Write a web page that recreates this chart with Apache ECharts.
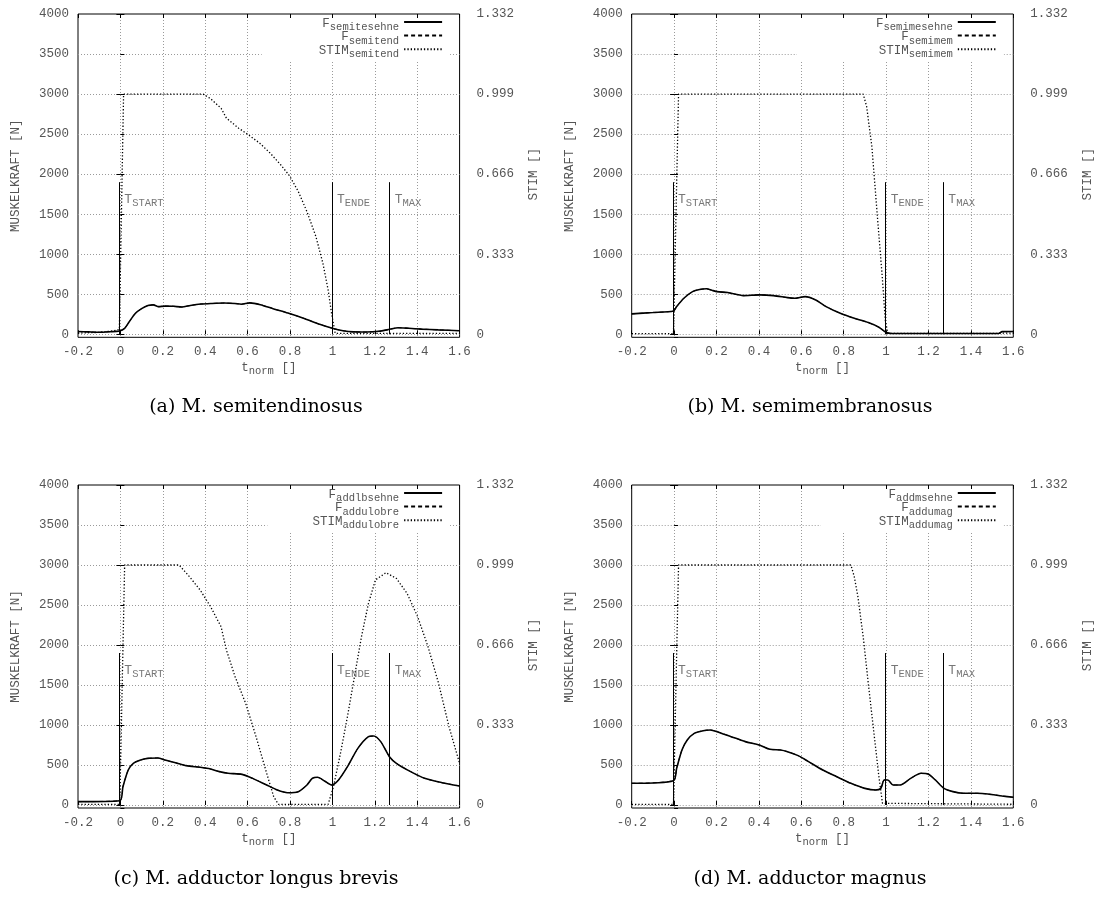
<!DOCTYPE html>
<html>
<head>
<meta charset="utf-8">
<title>Muskelkraft</title>
<script src="https://cdn.jsdelivr.net/npm/echarts@6/dist/echarts.min.js"></script>
<style>
  html, body { margin: 0; padding: 0; background: #fff; }
  #main { width: 1101px; height: 910px; }
</style>
</head>
<body>
<div id="main"></div>
<script>
// axes
var xMin = -0.2, xMax = 1.6, xStep = 0.2;
var forceMax = 4000;
var stimMax = 1.332, stimStep = 0.333;
var markerTop = 1900, markerLabelAt = 1700;
var markerNames = ['START', 'ENDE', 'MAX'];

// (a) M. semitendinosus  [t_norm, N] / [t_norm, STIM]
var forceA = [[-0.2,35],[-0.15,30],[-0.1,25],[-0.05,32],[-0.005,42],[0.02,75],[0.04,150],[0.07,260],[0.1,320],[0.13,360],[0.155,368],[0.18,345],[0.21,352],[0.25,350],[0.29,340],[0.33,360],[0.38,378],[0.43,385],[0.49,390],[0.54,385],[0.57,375],[0.61,392],[0.66,370],[0.72,320],[0.79,265],[0.87,195],[0.94,125],[1.0,75],[1.05,45],[1.1,30],[1.16,28],[1.22,38],[1.27,62],[1.31,82],[1.36,75],[1.42,65],[1.5,55],[1.6,45]];
var stimA = [[-0.2,0.005],[-0.1,0.008],[-0.03,0.015],[-0.005,0.02],[0.015,0.999],[0.39,0.999],[0.425,0.98],[0.475,0.94],[0.5,0.899],[0.558,0.857],[0.6,0.832],[0.657,0.795],[0.707,0.753],[0.756,0.705],[0.798,0.659],[0.839,0.594],[0.88,0.51],[0.922,0.407],[0.955,0.296],[0.98,0.184],[0.996,0.087],[1.013,0.004],[1.6,0.004]];
var markA = [-0.005, 0.998, 1.27];

// (b) M. semimembranosus
var forceB = [[-0.2,255],[-0.1,272],[-0.003,292],[0.012,346],[0.046,450],[0.087,533],[0.12,560],[0.153,568],[0.178,550],[0.203,533],[0.253,521],[0.327,483],[0.402,492],[0.469,483],[0.535,458],[0.568,450],[0.618,471],[0.668,429],[0.717,346],[0.784,262],[0.85,200],[0.916,146],[0.966,88],[0.999,25],[1.024,10],[1.2,10],[1.4,10],[1.53,10],[1.547,33],[1.6,35]];
var stimB = [[-0.2,0.003],[-0.003,0.003],[0.021,0.999],[0.892,0.999],[0.908,0.948],[0.933,0.78],[0.958,0.5],[0.983,0.226],[0.996,0.06],[1.008,0.004],[1.5,0.004],[1.6,0.005]];
var markB = [-0.005, 0.998, 1.27];

// (c) M. adductor longus brevis
var forceC = [[-0.2,42],[-0.003,54],[0.012,229],[0.037,438],[0.061,521],[0.095,562],[0.128,583],[0.177,588],[0.21,562],[0.26,529],[0.31,492],[0.376,471],[0.425,450],[0.467,417],[0.508,396],[0.574,383],[0.624,333],[0.69,250],[0.74,188],[0.789,154],[0.839,167],[0.88,250],[0.905,333],[0.93,346],[0.963,300],[0.996,250],[1.029,313],[1.071,479],[1.12,708],[1.17,854],[1.195,863],[1.228,792],[1.269,604],[1.302,521],[1.369,417],[1.435,333],[1.517,279],[1.6,238]];
var stimC = [[-0.2,0.003],[-0.003,0.003],[0.02,0.999],[0.277,0.999],[0.326,0.95],[0.376,0.895],[0.425,0.826],[0.475,0.742],[0.5,0.645],[0.541,0.534],[0.591,0.423],[0.64,0.284],[0.69,0.132],[0.723,0.035],[0.745,0.003],[0.98,0.003],[1.005,0.076],[1.038,0.215],[1.071,0.368],[1.104,0.534],[1.137,0.7],[1.17,0.839],[1.203,0.937],[1.253,0.967],[1.302,0.943],[1.352,0.881],[1.402,0.784],[1.451,0.659],[1.501,0.506],[1.55,0.326],[1.6,0.173]];
var markC = [-0.005, 0.998, 1.27];

// (d) M. adductor magnus
var forceD = [[-0.2,271],[-0.003,304],[0.012,458],[0.037,688],[0.062,813],[0.095,896],[0.137,929],[0.17,938],[0.203,917],[0.269,854],[0.336,792],[0.402,750],[0.452,696],[0.502,688],[0.535,667],[0.585,617],[0.634,542],[0.701,438],[0.767,354],[0.834,271],[0.9,208],[0.95,188],[0.975,208],[0.991,313],[1.008,313],[1.033,250],[1.066,250],[1.116,333],[1.165,396],[1.198,388],[1.232,313],[1.273,208],[1.315,167],[1.364,146],[1.43,146],[1.48,138],[1.547,113],[1.6,96]];
var stimD = [[-0.2,0.003],[-0.003,0.003],[0.021,0.999],[0.834,0.999],[0.85,0.95],[0.867,0.867],[0.892,0.7],[0.916,0.506],[0.941,0.312],[0.966,0.118],[0.983,0.007],[1.6,0.003]];
var markD = [-0.005, 0.998, 1.27];

var captions = ['(a) M. semitendinosus', '(b) M. semimembranosus', '(c) M. adductor longus brevis', '(d) M. adductor magnus'];
var tendonNames = ['semitesehne', 'semimesehne', 'addlbsehne', 'addmsehne'];
var muscleNames = ['semitend', 'semimem', 'addulobre', 'addumag'];
var forces = [forceA, forceB, forceC, forceD];
var stims = [stimA, stimB, stimC, stimD];
var marks = [markA, markB, markC, markD];

// layout (px)
var W = 1101, H = 910;
var cols = [{ left: 78, right: W - 459.6, cap: 256 }, { left: 631.7, right: W - 1013.3, cap: 810 }];
var rows = [{ top: 14, zero: 334.3, edge: 337.3, cap: 407 }, { top: 485, zero: 805, edge: 808, cap: 879 }];
var keyPadLeft = [57, 79, 45, 58];

var mono = 'Liberation Mono';
var grey = '#555';
// main text + lowered subscript
var subRich = {
  m: { fontFamily: mono, fontSize: 12.5, color: grey, lineHeight: 14, padding: [2, 0, 0, 0], verticalAlign: 'top' },
  s: { fontFamily: mono, fontSize: 10.5, color: grey, lineHeight: 10, padding: [7, 0, 0, 0], verticalAlign: 'top' }
};
var gridLine = { color: '#9a9a9a', width: 1, type: [1, 2] };
var tick = { inside: true, length: 4, lineStyle: { color: '#000', width: 1 } };

function fmtX(v) {
  if (Math.abs(v) < 1e-9) return '0';
  return String(+v.toFixed(1));
}

var option = {
  animation: false,
  backgroundColor: '#fff',
  grid: [], xAxis: [], yAxis: [], series: [], legend: [], graphic: []
};

for (var i = 0; i < 4; i++) {
  var c = cols[i % 2], r = rows[Math.floor(i / 2)];
  var gA = option.grid.length, gB = gA + 1;
  var yMin = -(r.edge - r.zero) / (r.zero - r.top) * forceMax;

  option.grid.push({ left: c.left, right: c.right, top: r.top, bottom: H - r.edge,
    show: true, borderColor: '#000', borderWidth: 1, backgroundColor: 'transparent' });
  option.grid.push({ left: c.left, right: c.right, top: r.top, bottom: H - r.zero });

  var xb = option.xAxis.length;
  option.xAxis.push({
    type: 'value', gridIndex: gA, position: 'bottom', min: xMin, max: xMax, interval: xStep,
    name: '{m|t}{s|norm}{m| []}', nameLocation: 'middle', nameGap: 18,
    nameTextStyle: { rich: subRich },
    axisLine: { show: false }, axisTick: tick,
    axisLabel: { margin: 8, fontFamily: mono, fontSize: 12.5, color: grey, formatter: fmtX },
    splitLine: { show: true, showMinLine: false, showMaxLine: false, lineStyle: gridLine }
  });
  option.xAxis.push({
    type: 'value', gridIndex: gA, position: 'top', min: xMin, max: xMax, interval: xStep, z: 6,
    axisLine: { show: false }, axisTick: tick, axisLabel: { show: false }, splitLine: { show: false }
  });
  option.xAxis.push({ type: 'value', gridIndex: gB, min: xMin, max: xMax, show: false });

  var yl = option.yAxis.length;
  option.yAxis.push({
    type: 'value', gridIndex: gA, position: 'left', min: yMin, max: forceMax, splitNumber: 8,
    name: 'MUSKELKRAFT [N]', nameLocation: 'middle', nameGap: 56, nameRotate: 90,
    nameTextStyle: { fontFamily: mono, fontSize: 12.5, color: grey },
    axisLine: { show: false }, axisTick: tick,
    axisLabel: { margin: 9, fontFamily: mono, fontSize: 12.5, color: grey,
      formatter: function (v) { return v < 0 ? '' : String(Math.round(v)); } },
    splitLine: { show: true, showMinLine: false, showMaxLine: false, lineStyle: gridLine }
  });
  option.yAxis.push({
    type: 'value', gridIndex: gB, position: 'right', min: 0, max: stimMax, interval: stimStep,
    name: 'STIM []', nameLocation: 'middle', nameGap: 68, nameRotate: 90,
    nameTextStyle: { fontFamily: mono, fontSize: 12.5, color: grey },
    axisLine: { show: false }, axisTick: tick,
    axisLabel: { margin: 17, fontFamily: mono, fontSize: 12.5, color: grey,
      formatter: function (v) { return v === 0 ? '0' : v.toFixed(3); } },
    splitLine: { show: false }
  });

  var fName = 'F ' + tendonNames[i], mName = 'F ' + muscleNames[i], sName = 'STIM ' + muscleNames[i];

  option.series.push({
    name: fName, type: 'line', xAxisIndex: xb, yAxisIndex: yl, data: forces[i],
    symbol: 'none', smooth: 0.25, color: '#000', z: 4,
    lineStyle: { color: '#000', width: 1.6 },
    emphasis: { disabled: true },
    markLine: {
      silent: true, symbol: 'none', label: { show: false },
      lineStyle: { color: '#000', width: 1, type: 'solid' },
      emphasis: { disabled: true },
      data: marks[i].map(function (x) { return [{ coord: [x, 0] }, { coord: [x, markerTop] }]; })
    }
  });
  option.series.push({
    name: mName, type: 'line', xAxisIndex: xb, yAxisIndex: yl, data: forces[i],
    symbol: 'none', smooth: 0.25, color: '#000', z: 3,
    lineStyle: { color: '#000', width: 1, type: [4, 3] },
    emphasis: { disabled: true }
  });
  option.series.push({
    name: sName, type: 'line', xAxisIndex: xb + 2, yAxisIndex: yl + 1, data: stims[i],
    symbol: 'none', color: '#000', z: 3,
    lineStyle: { color: '#000', width: 1.3, type: [1.3, 2] },
    emphasis: { disabled: true }
  });
  option.series.push({
    type: 'scatter', xAxisIndex: xb, yAxisIndex: yl, symbolSize: 0, z: 5, silent: true,
    data: marks[i].map(function (x, k) { return { value: [x, markerLabelAt], name: markerNames[k] }; }),
    label: {
      show: true, position: 'right', distance: 5,
      formatter: function (p) { return '{m|T}{s|' + p.name + '}'; },
      rich: {
        m: { fontFamily: mono, fontSize: 13, color: grey, lineHeight: 14, padding: [2, 0, 0, 0], verticalAlign: 'top' },
        s: { fontFamily: mono, fontSize: 10.5, color: grey, lineHeight: 10, padding: [7, 0, 0, 0], verticalAlign: 'top' }
      }
    }
  });

  option.legend.push({
    data: [fName, mName, sName],
    orient: 'vertical', align: 'right', selectedMode: false,
    right: c.right + 9.5, top: r.top + 1,
    itemWidth: 38, itemHeight: 10, itemGap: -4.4,
    padding: [0, 7, 0, keyPadLeft[i]], backgroundColor: '#fff',
    itemStyle: { opacity: 0 },
    formatter: function (name) {
      var k = name.indexOf(' ');
      return '{m|' + name.slice(0, k) + '}{s|' + name.slice(k + 1) + '}';
    },
    textStyle: { rich: subRich }
  });

  option.graphic.push({
    type: 'text', x: c.cap, y: r.cap, silent: true,
    style: { text: captions[i], align: 'center', verticalAlign: 'middle',
      font: '19px "DejaVu Serif"', fill: '#000' }
  });
}

var chart = echarts.init(document.getElementById('main'));
chart.setOption(option);
window.addEventListener('resize', function () { chart.resize(); });
</script>
</body>
</html>
